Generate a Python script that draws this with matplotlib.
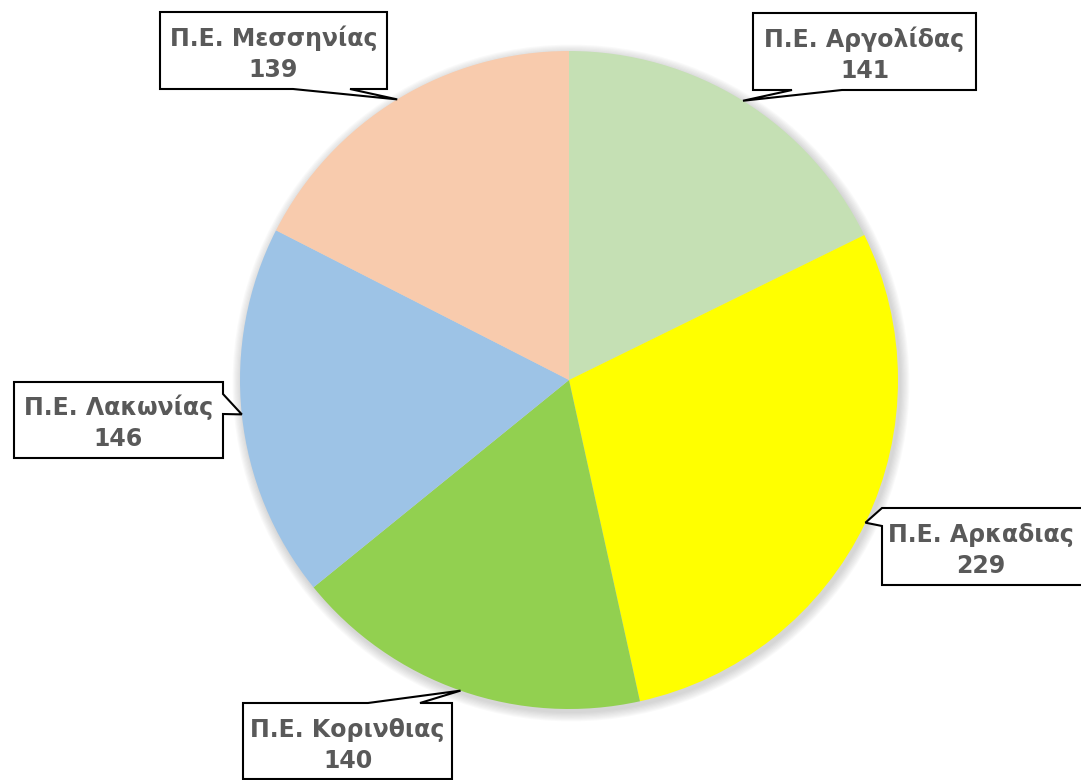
import numpy as np
import matplotlib
matplotlib.use("Agg")
import matplotlib.pyplot as plt
from matplotlib.patches import Polygon, Circle

# data
labels = ["Π.Ε. Αργολίδας", "Π.Ε. Αρκαδιας", "Π.Ε. Κορινθιας",
          "Π.Ε. Λακωνίας", "Π.Ε. Μεσσηνίας"]
values = [141, 229, 140, 146, 139]
colors = ["#C5E0B4", "#FFFF00", "#92D050", "#9DC3E6", "#F8CBAD"]

W, H = 1081, 780
CX, CY, R = 569, 380, 329   # pixel coords of pie (y from top)

# callout boxes: (left, top, right, bottom), side of pointer, pointer base span
boxes = [
    ((753, 13, 976, 90), "bottom", (792, 842)),
    ((882, 508, 1090, 585), "left", (508, 526)),
    ((243, 703, 452, 779), "top", (368, 420)),
    ((14, 382, 223, 458), "right", (394, 414)),
    ((160, 12, 387, 89), "bottom", (293, 350)),
]


def px(x, y):
    # pixel (y down) -> data (y up)
    return x, H - y


fig = plt.figure(figsize=(W / 100, H / 100), dpi=100)
ax = fig.add_axes([0, 0, 1, 1])

# soft shadow around the pie
for i in range(8):
    ax.add_patch(Circle(px(CX + 2, CY + 3), R + 1 + i * 1.2, color="#808080",
                        alpha=0.045, lw=0, zorder=0))

wedges, _ = ax.pie(values, colors=colors, startangle=90, counterclock=False,
                   center=px(CX, CY), radius=R, frame=True,
                   wedgeprops=dict(linewidth=0))
for w in wedges:
    w.set_zorder(1)

ax.set_xlim(0, W)
ax.set_ylim(0, H)
ax.set_aspect("equal")
ax.axis("off")

for w, lab, val, (box, side, span) in zip(wedges, labels, values, boxes):
    mid = np.deg2rad((w.theta1 + w.theta2) / 2)
    tx, ty = CX + R * np.cos(mid), CY - R * np.sin(mid)
    l, t, r, b = box
    a0, a1 = span
    if side == "bottom":
        pts = [(l, t), (r, t), (r, b), (a1, b), (tx, ty), (a0, b), (l, b)]
    elif side == "top":
        pts = [(l, t), (a0, t), (tx, ty), (a1, t), (r, t), (r, b), (l, b)]
    elif side == "left":
        pts = [(l, t), (r, t), (r, b), (l, b), (l, a1), (tx, ty), (l, a0)]
    else:
        pts = [(l, t), (r, t), (r, a0), (tx, ty), (r, a1), (r, b), (l, b)]
    ax.add_patch(Polygon([px(x, y) for x, y in pts], closed=True,
                         facecolor="white", edgecolor="black", lw=1.5,
                         joinstyle="miter", zorder=3))
    cx = (l + min(r, W - 2)) / 2
    cy = (t + b) / 2
    ax.text(*px(cx, cy - 4.5), lab, ha="center", va="baseline", fontsize=17,
            fontweight="bold", color="#595959", zorder=4)
    ax.text(*px(cx, cy + 26.5), str(val), ha="center", va="baseline",
            fontsize=17, fontweight="bold", color="#595959", zorder=4)

fig.savefig("out.png", dpi=100)
